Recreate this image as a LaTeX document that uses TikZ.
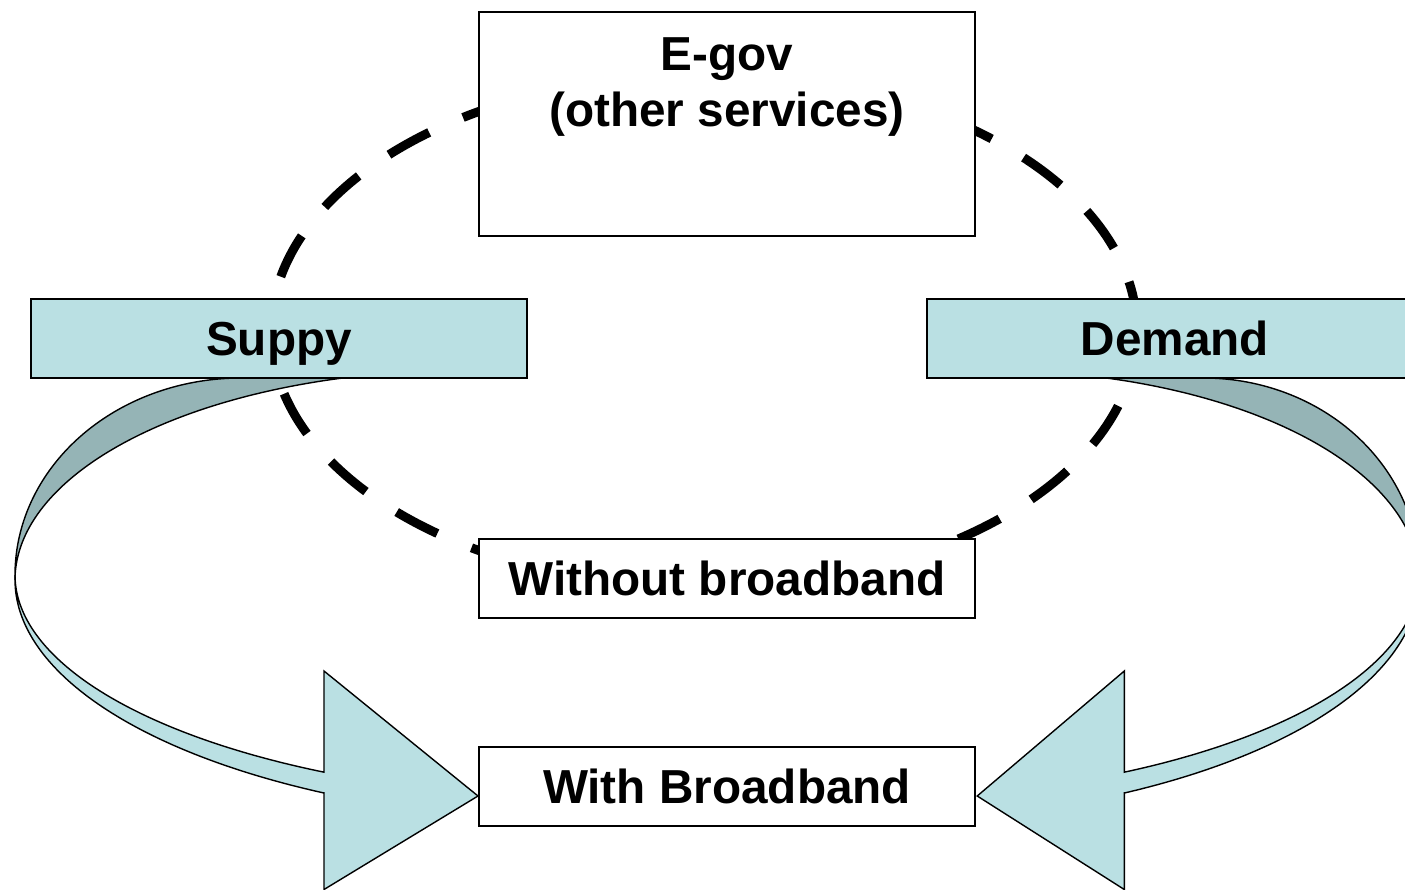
\documentclass[tikz,border=0pt]{standalone}
\usepackage{fontspec}
\setmainfont{Liberation Sans}
\definecolor{bandlight}{RGB}{186,224,227}
\definecolor{banddark}{RGB}{149,180,182}
\begin{document}
\begin{tikzpicture}[x=1pt,y=-1pt,
  boxstyle/.style={draw=black, line width=1.8pt, minimum width=496pt, minimum height=79pt,
    inner sep=0pt, text height=34.4pt, text depth=0pt,
    font=\fontsize{47.7}{57}\selectfont\bfseries},
  lbl/.style={inner sep=0pt, font=\fontsize{47.7}{57}\selectfont\bfseries},
  frontband/.style={fill=bandlight, draw=black, line width=1.4pt, line join=miter},
  backband/.style={fill=banddark, draw=black, line width=1.4pt, line join=miter},
  dashring/.style={draw=black, line width=9pt, dash pattern=on 46pt off 37pt, dash phase=5pt}]
\useasboundingbox (0,0) rectangle (1405,890);
\clip (0,0) rectangle (1405,890);
\fill[white] (0,0) rectangle (1405,890);

% dashed ellipse
\draw[dashring] plot[domain=0:360, samples=361] ({704+433*cos(\x)}, {331+257*sin(\x)});

% left curved arrow
\begin{scope}[shift={(324,0)}]
  \path[backband] plot[domain=270:180, samples=80] ({-83+226*cos(\x)}, {575+197*sin(\x)})
    -- plot[domain=180:265, samples=80] ({137+446*cos(\x)}, {580+209.5*sin(\x)})
    -- (-83,371) -- cycle;
  \path[frontband] plot[domain=180:118.33, samples=80] ({279+588*cos(\x)}, {575+224*sin(\x)})
    -- (0,671) -- (154,796) -- (0,889.5) -- (0,793)
    -- plot[domain=118.33:180, samples=80] ({279+588*cos(\x)}, {580+242*sin(\x)}) -- cycle;
\end{scope}

% right curved arrow
\begin{scope}[shift={(1124.3,0)}, xscale=-0.955]
  \path[backband] plot[domain=270:180, samples=80] ({-83+226*cos(\x)}, {575+197*sin(\x)})
    -- plot[domain=180:265, samples=80] ({137+446*cos(\x)}, {580+209.5*sin(\x)})
    -- (-83,371) -- cycle;
  \path[frontband] plot[domain=180:118.33, samples=80] ({279+588*cos(\x)}, {575+224*sin(\x)})
    -- (0,671) -- (154,796) -- (0,889.5) -- (0,793)
    -- plot[domain=118.33:180, samples=80] ({279+588*cos(\x)}, {580+242*sin(\x)}) -- cycle;
\end{scope}

% boxes
\node[boxstyle, fill=white, minimum height=224pt] (egov) at (727,124) {};
\node[lbl, anchor=base] (egovtitle) at (727,71) {E-gov};
\node[lbl, anchor=base] (egovsub) at (727,127) {(other services)};
\node[boxstyle, fill=bandlight] (supply) at (279,338.5) {Suppy};
\node[boxstyle, fill=bandlight] (demand) at (1175,338.5) {Demand};
\node[boxstyle, fill=white] (without) at (727,578.5) {Without broadband};
\node[boxstyle, fill=white] (with) at (727,786.5) {With Broadband};
\end{tikzpicture}
\end{document}
